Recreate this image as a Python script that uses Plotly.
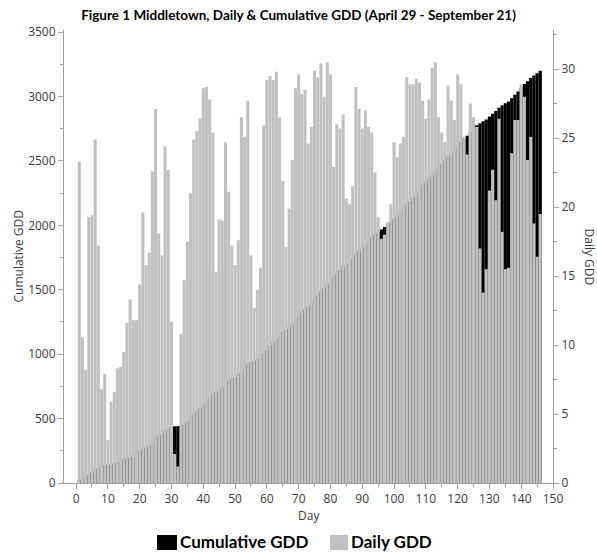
import plotly.graph_objects as go

days = list(range(1, 147))

daily_gdd = [
    23.3, 10.6, 8.2, 19.3, 19.4, 24.9, 17.2, 6.8, 7.9, 3.1,
    5.9, 6.6, 8.3, 8.4, 9.5, 11.6, 13.3, 11.8, 11.8, 14.4,
    19.6, 15.8, 16.7, 22.6, 27.1, 18.1, 16.5, 24.4, 22.7, 11.7,
    2.1, 1.2, 10.8, 14.7, 17.5, 21.0, 24.9, 25.5, 26.4, 28.6,
    28.7, 27.8, 25.4, 15.3, 19.1, 19.0, 24.7, 21.1, 17.2, 15.8,
    17.6, 26.5, 25.1, 27.7, 16.5, 12.7, 14.0, 15.6, 25.9, 29.2,
    29.5, 29.2, 29.8, 26.5, 21.9, 17.1, 19.9, 23.4, 28.6, 29.6,
    28.2, 28.5, 24.6, 25.8, 29.9, 29.4, 30.4, 28.0, 30.5, 29.6,
    22.9, 26.0, 25.7, 26.7, 20.6, 20.2, 21.5, 28.7, 27.1, 25.7,
    27.0, 25.8, 25.4, 22.5, 19.3, 17.7, 18.0, 18.9, 20.2, 24.7,
    23.6, 24.6, 25.1, 29.4, 28.9, 28.9, 29.3, 29.0, 27.7, 26.4,
    27.8, 30.1, 30.5, 26.5, 25.4, 24.7, 28.8, 27.7, 26.3, 29.6,
    28.9, 25.1, 23.8, 27.5, 26.5, 25.8, 17.0, 13.8, 15.5, 21.2,
    22.7, 20.5, 26.4, 18.2, 15.5, 15.6, 23.9, 26.3, 26.3, 28.9,
    28.0, 23.4, 25.1, 18.8, 16.4, 19.5,
]

cumulative_gdd = [
    23, 34, 42, 61, 81, 106, 123, 130, 138, 141,
    147, 153, 162, 170, 179, 191, 204, 216, 228, 242,
    262, 278, 294, 317, 344, 362, 379, 403, 426, 438,
    440, 441, 452, 466, 484, 505, 530, 555, 582, 610,
    639, 667, 692, 707, 727, 746, 770, 791, 809, 824,
    842, 868, 894, 921, 938, 950, 964, 980, 1006, 1035,
    1065, 1094, 1124, 1150, 1172, 1189, 1209, 1232, 1261, 1291,
    1319, 1347, 1372, 1398, 1428, 1457, 1487, 1515, 1546, 1576,
    1599, 1626, 1652, 1679, 1700, 1721, 1743, 1773, 1800, 1827,
    1854, 1881, 1907, 1930, 1950, 1968, 1987, 2006, 2027, 2052,
    2077, 2102, 2128, 2158, 2188, 2217, 2247, 2277, 2305, 2332,
    2361, 2392, 2423, 2450, 2476, 2502, 2531, 2559, 2586, 2617,
    2646, 2671, 2696, 2724, 2750, 2776, 2793, 2807, 2822, 2844,
    2866, 2887, 2913, 2931, 2947, 2962, 2986, 3013, 3039, 3068,
    3096, 3119, 3144, 3163, 3180, 3199,
]

left_ticks = [0, 500, 1000, 1500, 2000, 2500, 3000, 3500]
right_ticks = [0, 5, 10, 15, 20, 25, 30]
x_ticks = list(range(0, 151, 10))
series_names = ["Cumulative GDD", "Daily GDD"]
series_colors = ["#000000", "#c0c0c0"]

AX = "#a0a0a0"
TXT = "#3a3a3a"
FONT = "Open Sans, Noto Sans, sans-serif"
BOLD = "Lato, Open Sans, sans-serif"

fig = go.Figure()
fig.add_bar(x=days, y=cumulative_gdd, name=series_names[0], yaxis="y",
            marker=dict(color=series_colors[0], line=dict(width=0)), width=1.0)
fig.add_bar(x=days, y=daily_gdd, name=series_names[1], yaxis="y2",
            marker=dict(color=series_colors[1], line=dict(width=0)), width=0.95)

axis_common = dict(showline=True, linecolor=AX, linewidth=1, ticks="outside",
                   ticklen=5, tickcolor=AX, showgrid=False, zeroline=False,
                   automargin=False,
                   tickfont=dict(family=FONT, size=12, color=TXT))

# custom legend (paper coordinates: plot spans x 64..553 px, y 30..483 px)
def px_x(p):
    return (p - 64) / 489.0

def px_y(p):
    return (483 - p) / 453.0

legend_boxes = [(157, 177), (330, 348)]
legend_text_x = [179, 350]
shapes = []
annotations = []
for (x0, x1), tx, name, col in zip(legend_boxes, legend_text_x, series_names, series_colors):
    shapes.append(dict(type="rect", xref="paper", yref="paper",
                       x0=px_x(x0), x1=px_x(x1), y0=px_y(550), y1=px_y(535),
                       fillcolor=col, line=dict(width=0)))
    annotations.append(dict(text="<b>%s</b>" % name, xref="paper", yref="paper",
                            x=px_x(tx), y=px_y(541.5), xanchor="left", yanchor="middle",
                            showarrow=False, borderpad=0,
                            font=dict(family=BOLD, size=17, color="#000000")))

annotations.append(dict(text="Daily GDD", xref="paper", yref="paper", x=px_x(589), y=0.5,
                        xanchor="center", yanchor="middle",
                        textangle=90, showarrow=False,
                        font=dict(family=FONT, size=12, color=TXT)))
annotations.append(dict(text="Cumulative GDD", xref="paper", yref="paper", x=px_x(18), y=0.5,
                        xanchor="center", yanchor="middle",
                        textangle=-90, showarrow=False,
                        font=dict(family=FONT, size=12, color=TXT)))
annotations.append(dict(text="Day", xref="paper", yref="paper", x=0.5, y=px_y(515),
                        xanchor="center", yanchor="middle", showarrow=False,
                        font=dict(family=FONT, size=12, color=TXT)))

fig.update_layout(
    width=597, height=553,
    margin=dict(l=64, r=44, t=30, b=70, autoexpand=False),
    plot_bgcolor="white", paper_bgcolor="white",
    barmode="overlay",
    showlegend=False,
    title=dict(text="<b>Figure 1 Middletown, Daily & Cumulative GDD (April 29 - September 21)</b>",
               x=0.5, xanchor="center", y=1 - 15 / 553, yanchor="middle",
               font=dict(family=BOLD, size=13.5, color="#000000")),
    xaxis=dict(range=[-3.8, 150], tickvals=x_ticks,
               minor=dict(dtick=5, tick0=0, ticklen=3, ticks="outside", tickcolor=AX),
               **axis_common),
    yaxis=dict(range=[0, 3516], tickvals=left_ticks,
               minor=dict(dtick=250, tick0=0, ticklen=3, ticks="outside", tickcolor=AX),
               **axis_common),
    yaxis2=dict(range=[0, 32.83], tickvals=right_ticks, overlaying="y", side="right",
                minor=dict(dtick=2.5, tick0=0, ticklen=3, ticks="outside", tickcolor=AX),
                **axis_common),
    shapes=shapes,
    annotations=annotations,
)

fig.write_html("out.html", config={"displayModeBar": False},
               post_script="document.body.style.margin='0';document.body.style.padding='0';")
